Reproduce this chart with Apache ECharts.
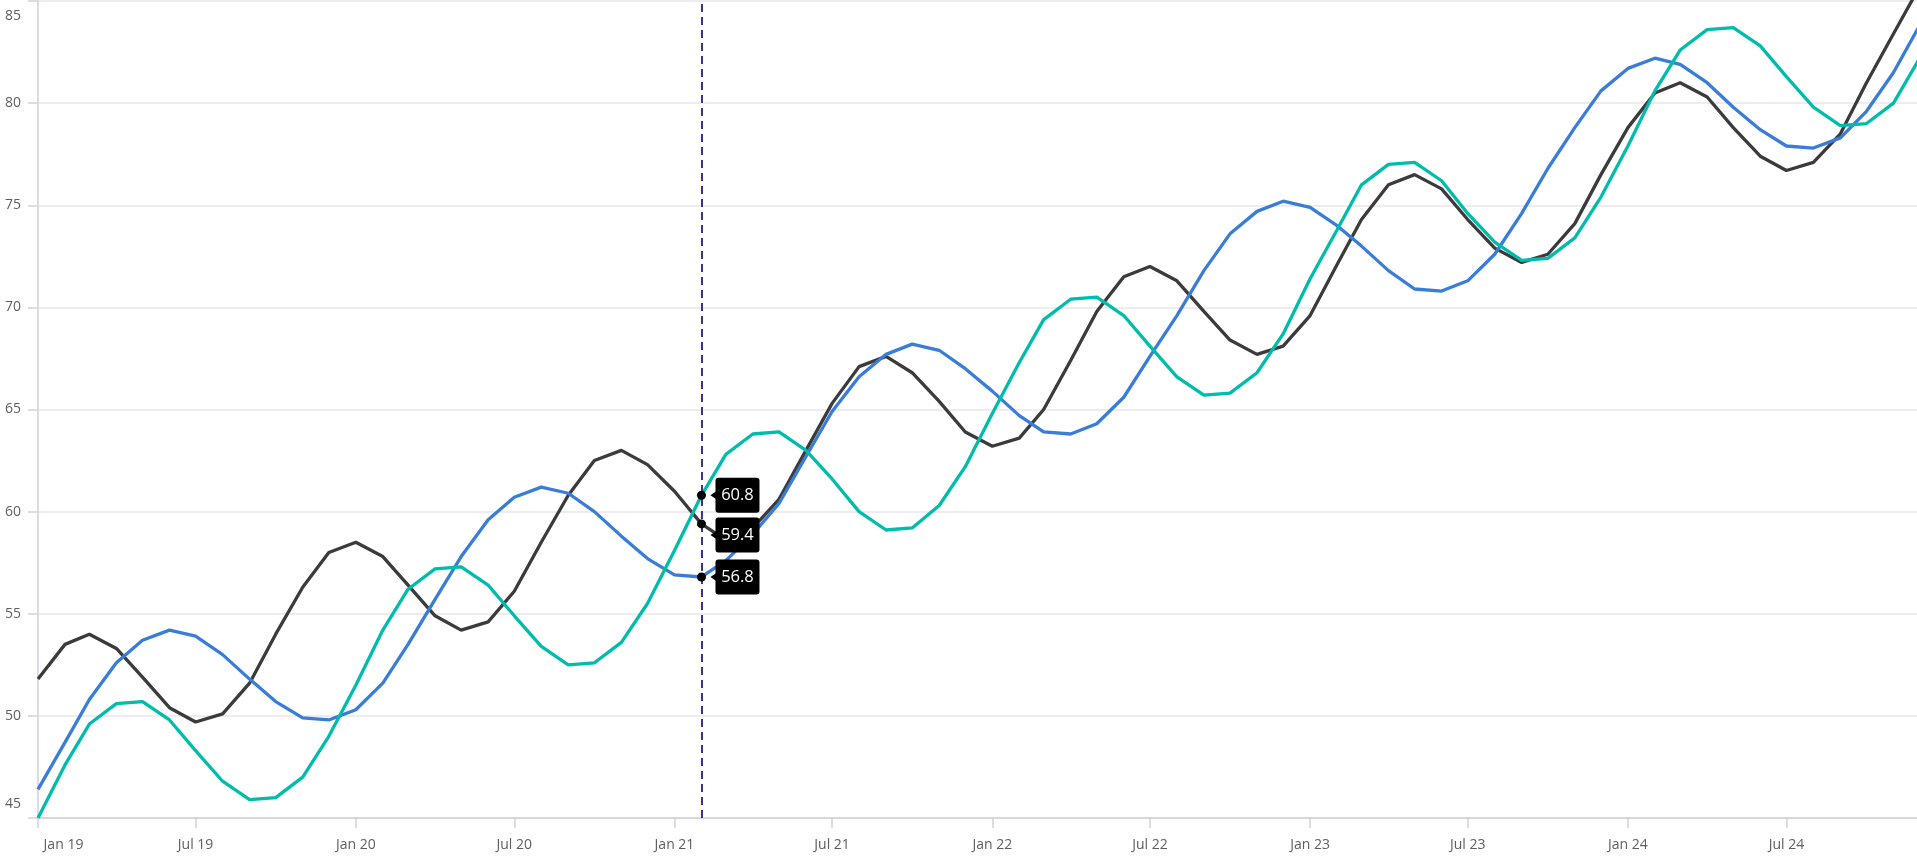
<!DOCTYPE html>
<html><head><meta charset="utf-8">
<script src="https://cdn.jsdelivr.net/npm/echarts@6/dist/echarts.min.js"></script>
<style>html,body{margin:0;padding:0;background:#fff;overflow:hidden}#c{width:1917px;height:856px}</style>
</head><body><div id="c"></div>
<script>
// ---- data ----
const START_YEAR = 2019;
const N_MONTHS = 72;
const darkValues = [
  51.8, 53.5, 54.0, 53.3, 51.9, 50.4, 49.7, 50.1, 51.6, 54.0, 56.3, 58.0,
  58.5, 57.8, 56.4, 54.9, 54.2, 54.6, 56.1, 58.5, 60.8, 62.5, 63.0, 62.3,
  61.0, 59.4, 58.6, 59.2, 60.6, 63.0, 65.3, 67.1, 67.6, 66.8, 65.4, 63.9,
  63.2, 63.6, 65.0, 67.4, 69.8, 71.5, 72.0, 71.3, 69.8, 68.4, 67.7, 68.1,
  69.6, 72.1, 74.3, 76.0, 76.5, 75.8, 74.3, 72.9, 72.2, 72.6, 74.1, 76.5,
  78.8, 80.5, 81.0, 80.3, 78.8, 77.4, 76.7, 77.1, 78.5, 81.0, 83.4, 85.7
];
const blueValues = [
  46.4, 48.7, 50.8, 52.6, 53.7, 54.2, 53.9, 53.0, 51.8, 50.7, 49.9, 49.8,
  50.3, 51.6, 53.5, 55.7, 57.8, 59.6, 60.7, 61.2, 60.9, 60.0, 58.8, 57.7,
  56.9, 56.8, 57.6, 58.9, 60.4, 62.7, 64.9, 66.6, 67.7, 68.2, 67.9, 67.0,
  65.9, 64.7, 63.9, 63.8, 64.3, 65.6, 67.6, 69.6, 71.8, 73.6, 74.7, 75.2,
  74.9, 74.0, 73.0, 71.8, 70.9, 70.8, 71.3, 72.6, 74.6, 76.8, 78.8, 80.6,
  81.7, 82.2, 81.9, 81.0, 79.8, 78.7, 77.9, 77.8, 78.3, 79.6, 81.5, 83.8
];
const tealValues = [
  45.0, 47.6, 49.6, 50.6, 50.7, 49.8, 48.3, 46.8, 45.9, 46.0, 47.0, 49.0,
  51.5, 54.2, 56.2, 57.2, 57.3, 56.4, 54.9, 53.4, 52.5, 52.6, 53.6, 55.5,
  58.1, 60.8, 62.8, 63.8, 63.9, 63.0, 61.6, 60.0, 59.1, 59.2, 60.3, 62.2,
  64.8, 67.3, 69.4, 70.4, 70.5, 69.6, 68.1, 66.6, 65.7, 65.8, 66.8, 68.7,
  71.4, 73.8, 76.0, 77.0, 77.1, 76.2, 74.6, 73.2, 72.3, 72.4, 73.4, 75.4,
  77.9, 80.6, 82.6, 83.6, 83.7, 82.8, 81.3, 79.8, 78.9, 79.0, 80.0, 82.2
];
const xTickDates = ['2019-01-01','2019-07-01','2020-01-01','2020-07-01','2021-01-01','2021-07-01',
                    '2022-01-01','2022-07-01','2023-01-01','2023-07-01','2024-01-01','2024-07-01'];
const xTickLabels = ['Jan 19','Jul 19','Jan 20','Jul 20','Jan 21','Jul 21',
                     'Jan 22','Jul 22','Jan 23','Jul 23','Jan 24','Jul 24'];
const yMin = 45, yMax = 85, yStep = 5;
const xMinDate = '2019-01-01', xMaxDate = '2024-11-28';
const crosshairDate = '2021-02-01';

// ---- build ----
const ts = s => { const p = s.split('-').map(Number); return Date.UTC(p[0], p[1]-1, p[2]); };
const monthDates = [];
for (let i = 0; i < N_MONTHS; i++) monthDates.push(Date.UTC(START_YEAR + Math.floor(i/12), i % 12, 1));
const tickTs = xTickDates.map(ts);
const crossTs = ts(crosshairDate);
const crossIdx = monthDates.indexOf(crossTs);

const FONT = '"Open Sans", "Noto Sans", sans-serif';
const LABEL_COLOR = '#605e5c';
const CALLOUT = 'path://M5,3 Q5,0 8,0 L46,0 Q49,0 49,3 L49,32 Q49,35 46,35 L8,35 Q5,35 5,32 L5,21 L0,17.5 L5,14 Z';

const defs = [
  {name: 'Dark', values: darkValues, color: '#3b3b3b', calloutDy: 11},
  {name: 'Blue', values: blueValues, color: '#3a7dd8', calloutDy: 0},
  {name: 'Teal', values: tealValues, color: '#00bcaa', calloutDy: 0}
];

const series = defs.map((d, k) => {
  const v = d.values[crossIdx];
  const s = {
    name: d.name, type: 'line', symbol: 'none', showSymbol: false, smooth: false, clip: true,
    lineStyle: {width: 3.3, color: d.color}, itemStyle: {color: d.color},
    data: d.values.map((y, i) => [monthDates[i], y]),
    markPoint: {
      z: 6, silent: true, animation: false,
      data: [
        {coord: [crossTs, v], symbol: 'circle', symbolSize: 9, itemStyle: {color: '#000'}, label: {show: false}},
        {coord: [crossTs, v], symbol: CALLOUT, symbolSize: [49, 35], symbolOffset: [33.5, d.calloutDy],
         itemStyle: {color: '#000'},
         label: {show: true, position: 'inside', formatter: v.toFixed(1), color: '#fff', fontSize: 16.5,
                 fontFamily: FONT, offset: [2.5, 0]}}
      ]
    }
  };
  if (k === 0) {
    s.markLine = {
      z: 4, silent: true, animation: false, symbol: 'none', label: {show: false},
      lineStyle: {color: '#3d3290', width: 2, type: [8, 5]},
      data: [{xAxis: crossTs}]
    };
  }
  return s;
});

const chart = echarts.init(document.getElementById('c'), null, {renderer: 'canvas'});
chart.setOption({
  animation: false,
  backgroundColor: '#fff',
  grid: {left: 38, right: 0, top: 1, bottom: 38, containLabel: false},
  xAxis: {
    type: 'value', min: ts(xMinDate), max: ts(xMaxDate), scale: true,
    axisLine: {show: true, onZero: false, lineStyle: {color: '#d3d0d9', width: 1.5}},
    axisTick: {show: true, customValues: tickTs, length: 10, lineStyle: {color: '#d3d0d9', width: 1.5}},
    splitLine: {show: false},
    axisLabel: {
      customValues: tickTs, margin: 20, color: LABEL_COLOR, fontSize: 14, fontFamily: FONT,
      formatter: val => {
        let best = 0, bd = Infinity;
        tickTs.forEach((t, i) => { const dd = Math.abs(t - val); if (dd < bd) { bd = dd; best = i; } });
        return best === 0 ? '{first|' + xTickLabels[0] + '}' : xTickLabels[best];
      },
      rich: {first: {padding: [0, 0, 0, 51], color: LABEL_COLOR, fontSize: 14, fontFamily: FONT}}
    }
  },
  yAxis: {
    type: 'value', min: yMin, max: yMax, interval: yStep,
    axisLine: {show: true, lineStyle: {color: '#d3d0d9', width: 1.5}},
    axisTick: {show: true, length: 10, lineStyle: {color: '#d3d0d9', width: 1.5}},
    splitLine: {show: true, lineStyle: {color: '#e8e5ed', width: 1.5}},
    axisLabel: {
      margin: 17, color: LABEL_COLOR, fontSize: 14, fontFamily: FONT,
      formatter: val => val === yMax ? '{top|' + val + '}' : (val === yMin ? '{bot|' + val + '}' : String(val)),
      rich: {
        top: {padding: [31, 0, 0, 0], color: LABEL_COLOR, fontSize: 14, fontFamily: FONT},
        bot: {padding: [0, 0, 27, 0], color: LABEL_COLOR, fontSize: 14, fontFamily: FONT}
      }
    }
  },
  series: series
});
</script></body></html>
